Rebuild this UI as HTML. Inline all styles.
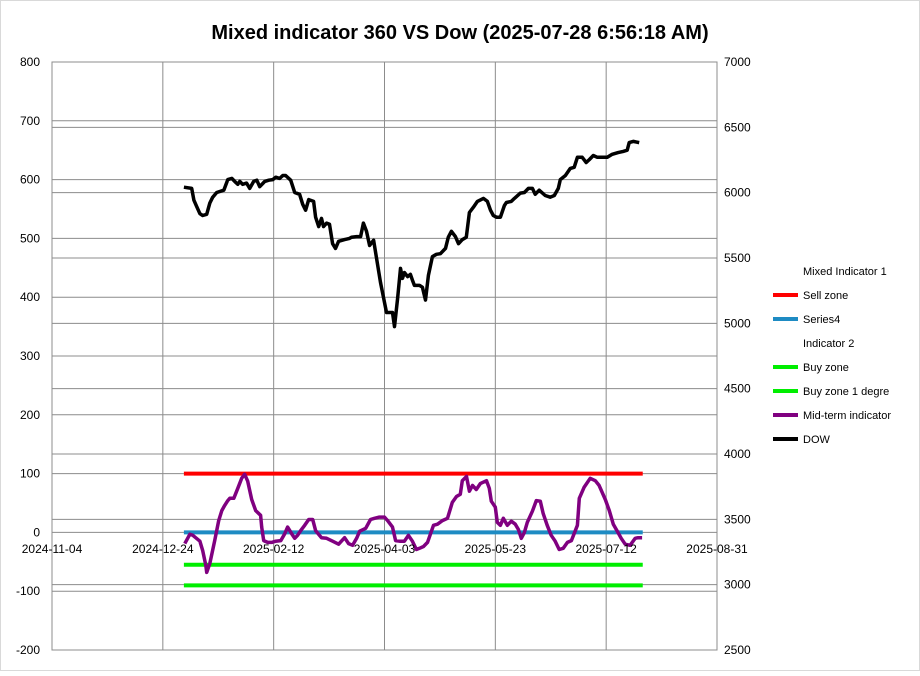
<!DOCTYPE html>
<html><head><meta charset="utf-8"><style>
body{margin:0;background:#fff;}
svg text{font-family:"Liberation Sans",Arial,sans-serif;}
</style></head><body>
<svg id="chart" width="920" height="671" xmlns="http://www.w3.org/2000/svg">
<rect x="0.5" y="0.5" width="919" height="670" fill="#fff" stroke="#d9d9d9"/>
<text x="460" y="39" text-anchor="middle" font-size="20" font-weight="bold">Mixed indicator 360 VS Dow (2025-07-28 6:56:18 AM)</text>
<g id="grid"></g><g id="series"></g><g id="axes"></g><g id="legend"></g>
</svg>
<script>
const leftTicks=[800,700,600,500,400,300,200,100,0,-100,-200];
const rightTicks=[7000,6500,6000,5500,5000,4500,4000,3500,3000,2500];
const xTickDays=[0,50,100,150,200,250,300];
const xTickLabels=["2024-11-04","2024-12-24","2025-02-12","2025-04-03","2025-05-23","2025-07-12","2025-08-31"];
const dowDays=[59.5,63,64,65.3,66.7,68,69.8,71.2,72.5,74.3,77.5,79.3,81.1,82.9,83.8,84.7,86,87.8,89.2,91,92.4,93.7,96,97.8,99.6,100.9,102.7,104.1,105.4,107.7,109.5,111.7,113.1,114.4,115.8,118,118.9,120.3,121.6,122.5,123.9,125.2,126.6,127.9,129.3,132,134.2,135.1,137.4,139.2,140.5,141.9,143.3,145.1,148.2,150.9,153.6,154.5,155.9,157.2,158.1,159,160.4,161.7,162.6,163.5,165.8,167.1,168.5,169.8,171.6,173.4,175.2,177.5,178.8,180.2,182,183.4,185.1,186.9,188.3,190.1,191.9,194.6,196.4,197.8,199.1,200.5,202.3,204.1,205,207.2,208.6,211.3,213.1,214.9,216.7,218,219.8,222.5,224.8,226.6,228.4,229.3,231.6,233.8,235.6,237,239.2,241,242.4,244.2,246,248.2,250.5,252.7,255.4,257.7,259.5,260.4,262.2,264.9,265.8];
const dowValues=[587,585,565,554,542,539,541,560,570,578,582,600,602,595,592,597,592,594,585,597,599,588,597,599,600,604,602,607,607,599,578,575,558,548,566,563,536,520,534,520,526,524,491,483,495,498,500,502,503,503,526,512,488,497,425,374,374,350,398,449,432,442,435,439,429,420,420,417,395,437,469,473,474,483,502,512,503,491,498,502,544,553,563,568,563,548,539,536,536,556,561,563,568,577,578,585,585,575,582,573,570,573,585,600,607,619,621,638,638,629,634,641,638,638,638,643,646,648,650,663,665,663];
const midDays=[59.9,62.2,63.5,66.7,68,69.4,69.8,71.2,73.4,75.2,76.6,77.9,79.3,80.2,82,83.8,85.6,86.9,88.3,90.1,91.9,94.1,94.6,95.5,97.3,99.1,100.9,103.2,105,106.3,108.1,109.5,110.8,112.2,114,115.8,117.6,118.9,121.6,123.9,126.6,129.3,132,133.8,135.6,137.4,138.8,141.5,143.7,145.5,147.7,150,151.4,153.6,155,156.8,159,160.8,162.6,164.4,165.8,167.6,169.4,172.1,173.9,176.1,178.4,180.6,182.5,184.2,185.1,187,188.3,189.7,191.4,193.2,196,197.3,198.2,200,200.9,202.3,203.6,205.4,207.2,209,210.4,211.7,213.1,214.4,216.7,218.5,220.3,221.6,223.4,225.2,227,228.8,230.6,232.5,234.3,237,237.9,240.1,242.8,245.1,246.8,249.6,251.4,253.2,255,256.8,258.6,260.8,263.1,264.4,266.2];
const midValues=[-19,-3,-5,-15,-31,-56,-68,-53,-14,20,37,46,54,58,58,75,92,99,87,56,37,29,9,-14,-17,-17,-15,-14,-2,9,-2,-10,-5,3,12,22,22,3,-9,-10,-15,-20,-9,-19,-22,-10,2,7,22,24,26,26,20,9,-14,-15,-15,-5,-15,-29,-27,-24,-17,12,14,20,24,51,61,65,88,95,70,80,73,83,88,75,53,43,17,12,24,12,19,14,5,-10,0,17,36,54,53,32,12,-5,-15,-29,-27,-17,-14,12,58,77,92,88,80,56,37,14,2,-10,-20,-22,-10,-9,-9];
const zoneStart=59.5, zoneEnd=266.5;
const sellZone=100, series4=0, buyZone=-55, buyZone1=-90;
const legendNames=["Mixed Indicator 1","Sell zone","Series4","Indicator  2","Buy zone","Buy zone 1 degre","Mid-term indicator","DOW"];
const legendColors=[null,"#ff0000","#1e8bc3",null,"#00ee00","#00ee00","#800080","#000000"];

const NS="http://www.w3.org/2000/svg";
const X0=52,X1=717,Y0=62,Y1=650;
const xs=d=>X0+d*(X1-X0)/300;
const yL=v=>Y1-(v+200)*(Y1-Y0)/1000;
const yR=v=>Y1-(v-2500)*(Y1-Y0)/4500;
function mk(tag,attrs,parent){const e=document.createElementNS(NS,tag);for(const k in attrs)e.setAttribute(k,attrs[k]);parent.appendChild(e);return e;}
const grid=document.getElementById('grid'),series=document.getElementById('series'),axes=document.getElementById('axes'),legend=document.getElementById('legend');

mk('rect',{x:X0,y:Y0,width:X1-X0,height:Y1-Y0,fill:'none',stroke:'#8c8c8c','stroke-width':1},grid);
leftTicks.forEach(v=>{
  const l=mk('line',{x1:X0,x2:X1,y1:yL(v),y2:yL(v),stroke:'#8c8c8c','stroke-width':1},grid);
  
  
  const t=mk('text',{x:40,y:yL(v)+4,'text-anchor':'end','font-size':12},axes);t.textContent=v;
  
  
});
rightTicks.forEach(v=>{
  const l=mk('line',{x1:X0,x2:X1,y1:yR(v),y2:yR(v),stroke:'#8c8c8c','stroke-width':1},grid);
  
  
  const t=mk('text',{x:724,y:yR(v)+4,'font-size':12},axes);t.textContent=v;
  
  
});
xTickDays.forEach((d,i)=>{
  const l=mk('line',{x1:xs(d),x2:xs(d),y1:Y0,y2:Y1,stroke:'#8c8c8c','stroke-width':1},grid);
  
  
  const t=mk('text',{x:xs(d),y:553,'text-anchor':'middle','font-size':12},axes);t.textContent=xTickLabels[i];
  
  
});
function hline(v,color,name){
  const l=mk('line',{x1:xs(zoneStart),x2:xs(zoneEnd),y1:yL(v),y2:yL(v),stroke:color,'stroke-width':4},series);
  
  
}
hline(sellZone,'#ff0000','sell-zone-line');
hline(series4,'#1e8bc3','series4-line');
hline(buyZone,'#00ee00','buy-zone-line');
hline(buyZone1,'#00ee00','buy-zone-1-degre-line');
function poly(days,vals,color,name){
  const p=mk('polyline',{points:days.map((d,i)=>xs(d).toFixed(1)+','+yL(vals[i]).toFixed(1)).join(' '),fill:'none',stroke:color,'stroke-width':3.5,'stroke-linejoin':'round'},series);
  
  
}
poly(midDays,midValues,'#800080','mid-term-indicator-line');
poly(dowDays,dowValues,'#000000','dow-line');
legendNames.forEach((n,i)=>{
  const y=271+i*24;
  if(legendColors[i]){
    const l=mk('line',{x1:773,x2:798,y1:y+24-24,y2:y,stroke:legendColors[i],'stroke-width':4},legend);
    
    
  }
  const t=mk('text',{x:803,y:y+4,'font-size':11},legend);t.textContent=n;
  
  
});
</script>
</body></html>
